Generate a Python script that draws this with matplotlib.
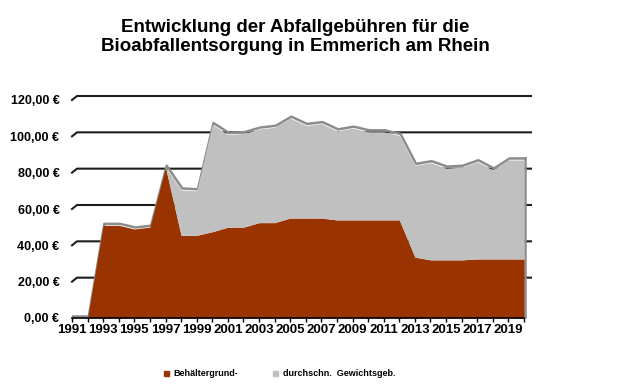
import matplotlib
matplotlib.use('Agg')
import matplotlib.pyplot as plt
from matplotlib.lines import Line2D
from matplotlib.patches import Rectangle
from matplotlib.transforms import IdentityTransform, offset_copy

plt.rcParams['font.family'] = ['Liberation Sans', 'DejaVu Sans']

years = list(range(1991, 2021))
behaelter = [0, 0, 51, 51, 49, 50, 83, 45.5, 45.5, 47.5, 50, 50, 52.5, 52.5, 55,
             55, 55, 54, 54, 54, 54, 54, 33.5, 32, 32, 32, 32.5, 32.5, 32.5, 32.5]
gewicht = [0, 0, 0, 0, 0, 0, 0, 25, 24.5, 59, 51, 51.5, 51.5, 52.5, 55,
           51, 52, 49, 50.5, 48.5, 48.5, 46.5, 50.5, 53.5, 50.5, 51, 53.5, 49, 54.5, 54.5]
series_names = ['Behältergrund-', 'durchschn.  Gewichtsgeb.']
yticks = [0, 20, 40, 60, 80, 100, 120]
ytick_labels = ['0,00 €', '20,00 €', '40,00 €', '60,00 €', '80,00 €', '100,00 €', '120,00 €']
title = 'Entwicklung der Abfallgebühren für die\nBioabfallentsorgung in Emmerich am Rhein'

brown = '#993300'
grey = '#c0c0c0'
edge = '#8c8c8c'

W, H = 625, 390
fig = plt.figure(figsize=(W / 100, H / 100), dpi=100)
ax = fig.add_axes([72 / W, (H - 318) / H, 452 / W, 218 / H])
ax.set_xlim(years[0], years[-1])
ax.set_ylim(0, 120)

total = [b + g for b, g in zip(behaelter, gewicht)]

# 3D-like gridlines (back wall offset)
fig.canvas.draw()
for y in yticks[1:]:
    px, py = ax.transData.transform((years[0], y))
    xs = [px, px + 5, 531]
    ys = [py, py + 4, py + 4]
    ln = Line2D(xs, ys, transform=IdentityTransform(), color='#1e1e1e', lw=1.5,
                zorder=0.5, clip_on=False)
    ax.add_artist(ln)

# area edge (3D top face)
edge_tr = offset_copy(ax.transData, fig=fig, x=1.2, y=1.5, units='dots')
ax.plot(years, total, color=edge, lw=1.8, transform=edge_tr, zorder=1.5,
        solid_joinstyle='round', clip_on=False)
x_last = years[-1]
ax.plot([x_last, x_last], [0, total[-1]], color=edge, lw=1.8, transform=edge_tr,
        zorder=1.5, clip_on=False)

ax.fill_between(years, 0, behaelter, color=brown, lw=0, zorder=2)
ax.fill_between(years, behaelter, total, color=grey, lw=0, zorder=2)

for s in ['top', 'right', 'left']:
    ax.spines[s].set_visible(False)
ax.spines['bottom'].set_color('black')
ax.spines['bottom'].set_linewidth(1.2)
ax.spines['bottom'].set_zorder(3)

ax.set_yticks(yticks)
ax.set_yticklabels(ytick_labels, fontsize=9, fontweight='bold')
ax.tick_params(axis='y', length=0, pad=9)

ax.set_xticks(years)
ax.set_xticklabels([str(y) if (y - years[0]) % 2 == 0 else '' for y in years],
                   fontsize=9.5, fontweight='bold')
ax.tick_params(axis='x', length=3, width=1, direction='out', pad=1)

fig.text(295 / W, 1 - 37 / H, title, ha='center', va='center', fontsize=13.5,
         fontweight='bold', linespacing=1.2)

# legend
fig.add_artist(Rectangle((164 / W, 1 - 375.5 / H), 5 / W, 5 / H, color=brown,
                         transform=fig.transFigure))
fig.text(173 / W, 1 - 373 / H, series_names[0], ha='left', va='center',
         fontsize=6.5, fontweight='bold')
fig.add_artist(Rectangle((273 / W, 1 - 375.5 / H), 5 / W, 5 / H, color=grey,
                         transform=fig.transFigure))
fig.text(283 / W, 1 - 373 / H, series_names[1], ha='left', va='center',
         fontsize=6.5, fontweight='bold')

fig.savefig('out.png', dpi=100)
